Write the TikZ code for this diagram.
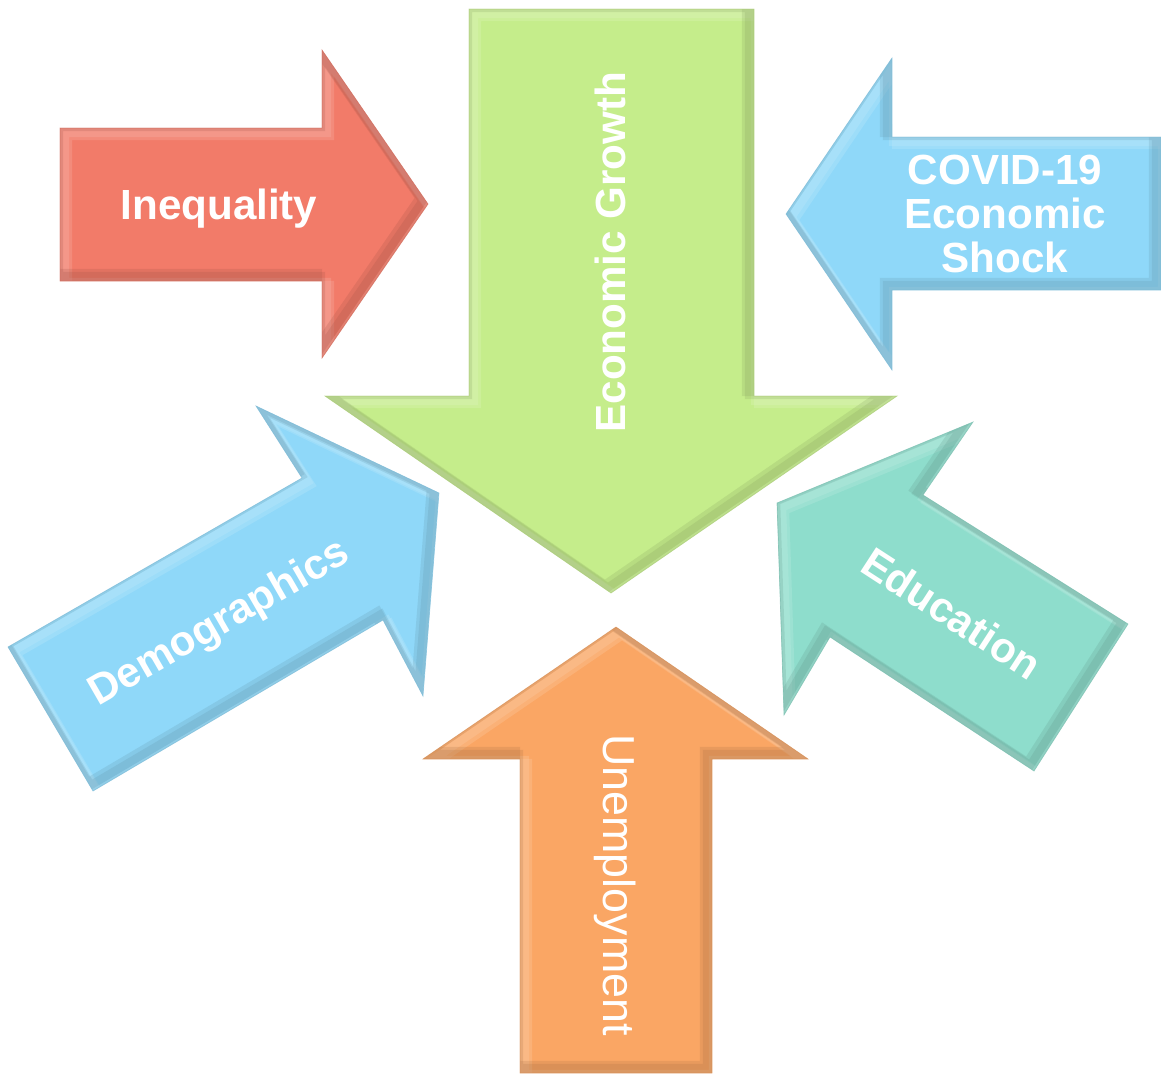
\documentclass[tikz,border=0pt]{standalone}
\usepackage{fontspec}
\setmainfont{Liberation Sans}
\usepackage{tikz}
\definecolor{growth}{RGB}{197,237,139}
\definecolor{ineq}{RGB}{242,123,105}
\definecolor{sky}{RGB}{143,216,249}
\definecolor{edu}{RGB}{142,221,204}
\definecolor{unemp}{RGB}{250,166,100}

% filled block arrow, soft light rim at top/left and dark rim at bottom/right
\newcommand{\bevelarrow}[2]{%
  \fill[#1] #2;
  \begin{scope}
    \clip #2;
    \draw[#1!50!white, line width=7pt, opacity=.25, shift={(6,6)}] #2;
    \draw[#1!50!white, line width=7pt, opacity=.25, shift={(3,3)}] #2;
    \draw[#1!65!black, line width=7pt, opacity=.2, shift={(-6,-6)}] #2;
    \draw[#1!65!black, line width=7pt, opacity=.2, shift={(-3,-3)}] #2;
  \end{scope}
  \draw[#1!85!black, line width=.4pt, opacity=.6] #2;
}

\begin{document}
\begin{tikzpicture}[
            x = 0.02cm, y = -0.02cm, % one unit per pixel, y running down
            line join = miter
            ]

        \tikzstyle{arrowtext}=[
            text = white,
            inner sep = 0pt,
            font = \bfseries\fontsize{24}{25}\selectfont
        ]

        \useasboundingbox (0,0) rectangle (1161,1073);

        % centre arrow
        \bevelarrow{growth}{(469,9) -- (754,9) -- (754,396) -- (897,396) -- (611,593) -- (325,396) -- (469,396) -- cycle}
        \node[arrowtext, rotate=90, anchor=base] (EG) at (625,252) {Economic Growth};

        % left arrows
        \bevelarrow{ineq}{(60,128) -- (322,128) -- (322,50) -- (428,204) -- (322,358) -- (322,281) -- (60,281) -- cycle}
        \node[arrowtext, anchor=base] (INEQ) at (219,219) {Inequality};

        \bevelarrow{sky}{(8,647) -- (302,478) -- (256,406) -- (439,493) -- (423,696) -- (383,620) -- (93,791) -- cycle}
        \node[arrowtext, rotate=30] (DEMO) at (220,624) {Demographics};

        % right arrows
        \bevelarrow{sky}{(786,214) -- (892,58) -- (892,137) -- (1161,137) -- (1161,290) -- (892,290) -- (892,370) -- cycle}
        \node[arrowtext, align=center] (COVID) at (1005,214) {COVID-19\\Economic\\Shock};

        \bevelarrow{edu}{(777,503) -- (973,422) -- (923,495) -- (1128,624) -- (1034,771) -- (830,637) -- (784,715) -- cycle}
        \node[arrowtext, rotate=-33] (EDU) at (952,613) {Education};

        % bottom arrow
        \bevelarrow{unemp}{(616,627) -- (808,759) -- (712,759) -- (712,1073) -- (520,1073) -- (520,759) -- (423,759) -- cycle}
        \node[arrowtext, font=\fontsize{25.5}{27}\selectfont, rotate=-90, anchor=base] (UNEMP) at (603,885) {Unemployment};

\end{tikzpicture}
\end{document}
